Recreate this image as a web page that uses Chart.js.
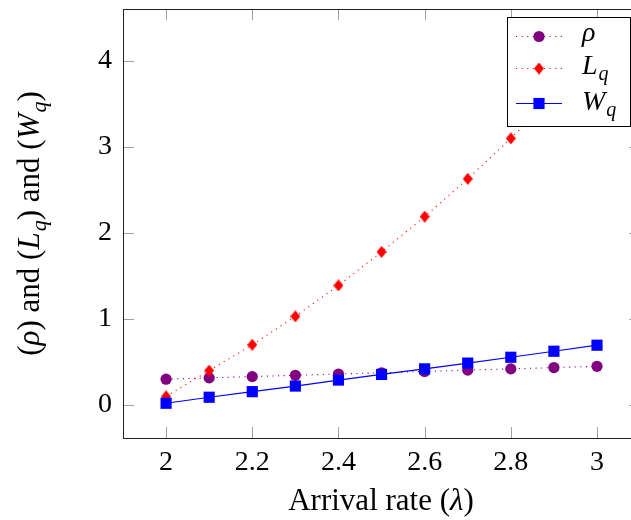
<!DOCTYPE html>
<html>
<head>
<meta charset="utf-8">
<script src="https://cdn.jsdelivr.net/npm/chart.js@4.4.1/dist/chart.umd.min.js"></script>
<style>
  html, body { margin: 0; padding: 0; background: #fff; overflow: hidden; }
  #wrap { width: 631px; height: 520px; overflow: hidden; }
  #wrap canvas { display: block; }
</style>
</head>
<body>
<div id="wrap"><canvas id="chart" width="648" height="520"></canvas></div>
<script>
// values
const arrivalRate = [2, 2.1, 2.2, 2.3, 2.4, 2.5, 2.6, 2.7, 2.8, 2.9, 3]
const rho = [0.3, 0.315, 0.33, 0.345, 0.36, 0.375, 0.39, 0.405, 0.42, 0.435, 0.45]
const Lq = [0.1, 0.4, 0.7, 1.03, 1.39, 1.78, 2.19, 2.63, 3.1, 3.6, 4.14]
const Wq = [0.02, 0.09, 0.155, 0.22, 0.29, 0.355, 0.42, 0.487, 0.555, 0.625, 0.695]
const xTicks = [2, 2.2, 2.4, 2.6, 2.8, 3]
const yTicks = [0, 1, 2, 3, 4]

const SERIF = "'Liberation Serif', 'Times New Roman', serif"
const FONT_SIZE = 28
const TITLE_SIZE = 31
const TICK_LEN = 11

// pgfplots-like narrow diamond mark
function makeDiamond(w, h, color) {
  const c = document.createElement('canvas')
  c.width = w
  c.height = h
  const g = c.getContext('2d')
  g.fillStyle = color
  g.beginPath()
  g.moveTo(w / 2, 0)
  g.lineTo(w, h / 2)
  g.lineTo(w / 2, h)
  g.lineTo(0, h / 2)
  g.closePath()
  g.fill()
  return c
}
const diamond = makeDiamond(10, 12, '#ff0000')

const pts = ys => arrivalRate.map((x, i) => ({ x: x, y: ys[i] }))

const datasets = [
  {
    label: 'ρ',
    math: [['ρ', 'it']],
    data: pts(rho),
    borderColor: '#800080',
    backgroundColor: '#800080',
    borderWidth: 1.1,
    borderDash: [1.1, 4.5],
    pointStyle: 'circle',
    pointRadius: 5.6,
    pointBorderWidth: 0,
    order: 3,
  },
  {
    label: 'Lq',
    math: [['L', 'it'], ['q', 'sub']],
    data: pts(Lq),
    borderColor: '#ff0000',
    backgroundColor: '#ff0000',
    borderWidth: 1.1,
    borderDash: [1.1, 4.5],
    pointStyle: diamond,
    pointRadius: 6,
    pointBorderWidth: 0,
    order: 2,
  },
  {
    label: 'Wq',
    math: [['W', 'it'], ['q', 'sub']],
    data: pts(Wq),
    borderColor: '#0000ff',
    backgroundColor: '#0000ff',
    borderWidth: 1.2,
    pointStyle: 'rect',
    pointRadius: 7.9,
    pointBorderWidth: 0,
    order: 1,
  },
]

function mathFont(style, size) {
  const s = style === 'sub' ? Math.round(size * 0.7) : size
  return (style === 'rm' ? '' : 'italic ') + s + 'px ' + SERIF
}

// draws text made of roman / italic / subscript pieces
function drawRich(ctx, parts, x, y, align, size) {
  const widths = parts.map(([t, s]) => {
    ctx.font = mathFont(s, size)
    return ctx.measureText(t).width + (s === 'sub' ? 1 : 0)
  })
  const total = widths.reduce((a, b) => a + b, 0)
  let cx = align === 'center' ? x - total / 2 : x
  ctx.textAlign = 'left'
  ctx.textBaseline = 'alphabetic'
  parts.forEach(([t, s], i) => {
    ctx.font = mathFont(s, size)
    ctx.fillText(t, cx + (s === 'sub' ? 1 : 0), s === 'sub' ? y + size * 0.22 : y)
    cx += widths[i]
  })
}

function drawMark(ctx, ds, x, y) {
  ctx.fillStyle = ds.backgroundColor
  if (ds.pointStyle === 'circle') {
    ctx.beginPath()
    ctx.arc(x, y, ds.pointRadius, 0, Math.PI * 2)
    ctx.fill()
  } else if (ds.pointStyle === 'rect') {
    const h = ds.pointRadius * Math.SQRT1_2
    ctx.fillRect(x - h, y - h, 2 * h, 2 * h)
  } else {
    const img = ds.pointStyle
    ctx.drawImage(img, x - img.width / 2, y - img.height / 2)
  }
}

const pgfAxis = {
  id: 'pgfAxis',
  afterDraw(chart) {
    const ctx = chart.ctx
    const { left, right, top, bottom } = chart.chartArea
    const xs = chart.scales.x
    const ys = chart.scales.y
    ctx.save()

    // inward tick marks on all four sides
    ctx.strokeStyle = '#a0a0a0'
    ctx.lineWidth = 1
    ctx.beginPath()
    xTicks.forEach(v => {
      const px = Math.round(xs.getPixelForValue(v)) + 0.5
      ctx.moveTo(px, bottom); ctx.lineTo(px, bottom - TICK_LEN)
      ctx.moveTo(px, top); ctx.lineTo(px, top + TICK_LEN)
    })
    yTicks.forEach(v => {
      const py = Math.round(ys.getPixelForValue(v)) + 0.5
      ctx.moveTo(left, py); ctx.lineTo(left + TICK_LEN, py)
      ctx.moveTo(right, py); ctx.lineTo(right - TICK_LEN, py)
    })
    ctx.stroke()

    // axis box
    ctx.strokeStyle = '#222'
    ctx.strokeRect(Math.round(left) + 0.5, Math.round(top) + 0.5, Math.round(right - left), Math.round(bottom - top))

    // axis titles
    ctx.fillStyle = '#000'
    drawRich(ctx, [['Arrival rate (', 'rm'], ['λ', 'it'], [')', 'rm']], 381, 510, 'center', TITLE_SIZE)
    ctx.save()
    ctx.translate(39, (top + bottom) / 2)
    ctx.rotate(-Math.PI / 2)
    drawRich(ctx, [
      ['(', 'rm'], ['ρ', 'it'], [') and (', 'rm'], ['L', 'it'], ['q', 'sub'],
      [') and (', 'rm'], ['W', 'it'], ['q', 'sub'], [')', 'rm'],
    ], 0, 0, 'center', TITLE_SIZE)
    ctx.restore()

    // legend box, north east
    const lx = 507.5, ly = 17.5, lw = 123, lh = 109
    ctx.fillStyle = '#fff'
    ctx.fillRect(lx, ly, lw, lh)
    ctx.strokeStyle = '#000'
    ctx.strokeRect(lx, ly, lw, lh)
    const rowY = [36.5, 68.5, 103.5]
    const baseY = [41, 74, 110]
    chart.data.datasets.forEach((ds, i) => {
      const y = rowY[i]
      ctx.strokeStyle = ds.borderColor
      ctx.lineWidth = ds.borderWidth
      ctx.setLineDash(ds.borderDash || [])
      ctx.beginPath()
      ctx.moveTo(516, y)
      ctx.lineTo(562, y)
      ctx.stroke()
      ctx.setLineDash([])
      drawMark(ctx, ds, 539, y)
      ctx.fillStyle = '#000'
      drawRich(ctx, ds.math, 582, baseY[i], 'left', FONT_SIZE)
    })
    ctx.restore()
  },
}

const tickFont = { family: SERIF, size: FONT_SIZE }

new Chart(document.getElementById('chart'), {
  type: 'line',
  data: { datasets: datasets },
  options: {
    responsive: false,
    animation: false,
    events: [],
    layout: { padding: { left: 0, top: 9, right: 1, bottom: 0 } },
    plugins: {
      legend: { display: false },
      tooltip: { enabled: false },
    },
    scales: {
      x: {
        type: 'linear',
        min: 1.9,
        max: 3.1,
        afterBuildTicks: s => { s.ticks = xTicks.map(v => ({ value: v })) },
        afterFit: s => {
          s.height = 82
          s.paddingLeft = 0
          s.paddingRight = 0
        },
        ticks: {
          font: tickFont, color: '#000', padding: 8, maxRotation: 0, autoSkip: false,
          callback: v => String(v),
        },
        grid: { display: false, drawTicks: false },
        border: { display: false },
      },
      y: {
        type: 'linear',
        min: -0.384,
        max: 4.605,
        afterBuildTicks: s => { s.ticks = yTicks.map(v => ({ value: v })) },
        afterFit: s => {
          s.width = 123
          s.paddingTop = 0
          s.paddingBottom = 0
        },
        ticks: { font: tickFont, color: '#000', padding: 11, callback: v => String(v) },
        grid: { display: false, drawTicks: false },
        border: { display: false },
      },
    },
  },
  plugins: [pgfAxis],
})
</script>
</body>
</html>
